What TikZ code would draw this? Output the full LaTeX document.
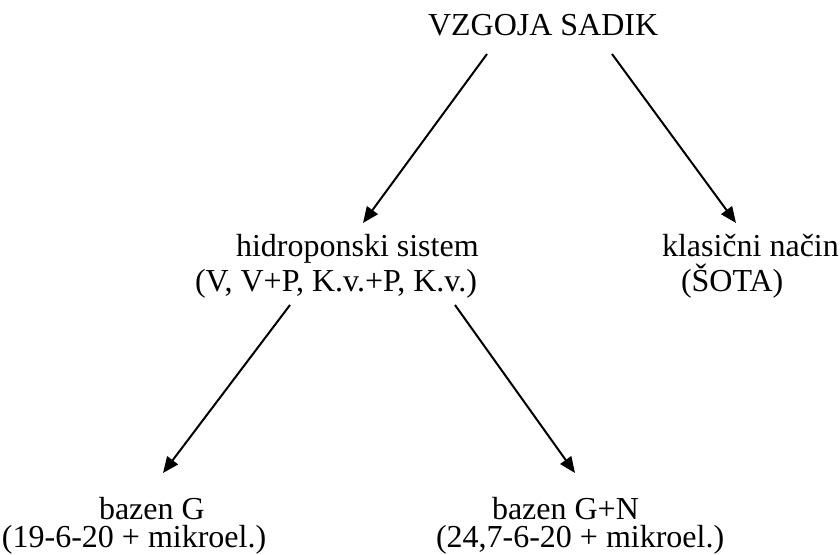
\documentclass[tikz,border=0pt]{standalone}
\usepackage{fontspec}
\setmainfont{Liberation Serif}
\usetikzlibrary{arrows.meta}
\tikzset{
  lbl/.style={inner sep=0pt, outer sep=0pt, anchor=base west, font=\fontsize{24}{28}\selectfont},
  arr/.style={line width=1.5pt, -{Triangle[length=12pt,width=10pt]}}
}
\begin{document}
\begin{tikzpicture}[x=0.75pt,y=-0.75pt]
\useasboundingbox (0,0) rectangle (840,555);
% top
\node[lbl] (top) at (428,36) {VZGOJA SADIK};
% middle left
\node[lbl] (hid1) at (236,257) {hidroponski sistem};
\node[lbl] (hid2) at (195,292) {(V, V+P, K.v.+P, K.v.)};
% middle right
\node[lbl] (kla1) at (662,257) {klasični način};
\node[lbl] (kla2) at (681,292) {(ŠOTA)};
% bottom left
\node[lbl] (bg1) at (99,520) {bazen G};
\node[lbl] (bg2) at (2,548) {(19-6-20 + mikroel.)};
% bottom right
\node[lbl] (bgn1) at (492,520) {bazen G+N};
\node[lbl] (bgn2) at (436,548) {(24,7-6-20 + mikroel.)};
% arrow end points
\coordinate (a1s) at (487,54);
\coordinate (a1e) at (363,223);
\coordinate (a2s) at (612,54);
\coordinate (a2e) at (736,223);
\coordinate (a3s) at (290,305);
\coordinate (a3e) at (163,473);
\coordinate (a4s) at (455,305);
\coordinate (a4e) at (575,473);
\draw[arr] (a1s) -- (a1e);
\draw[arr] (a2s) -- (a2e);
\draw[arr] (a3s) -- (a3e);
\draw[arr] (a4s) -- (a4e);
\end{tikzpicture}
\end{document}
